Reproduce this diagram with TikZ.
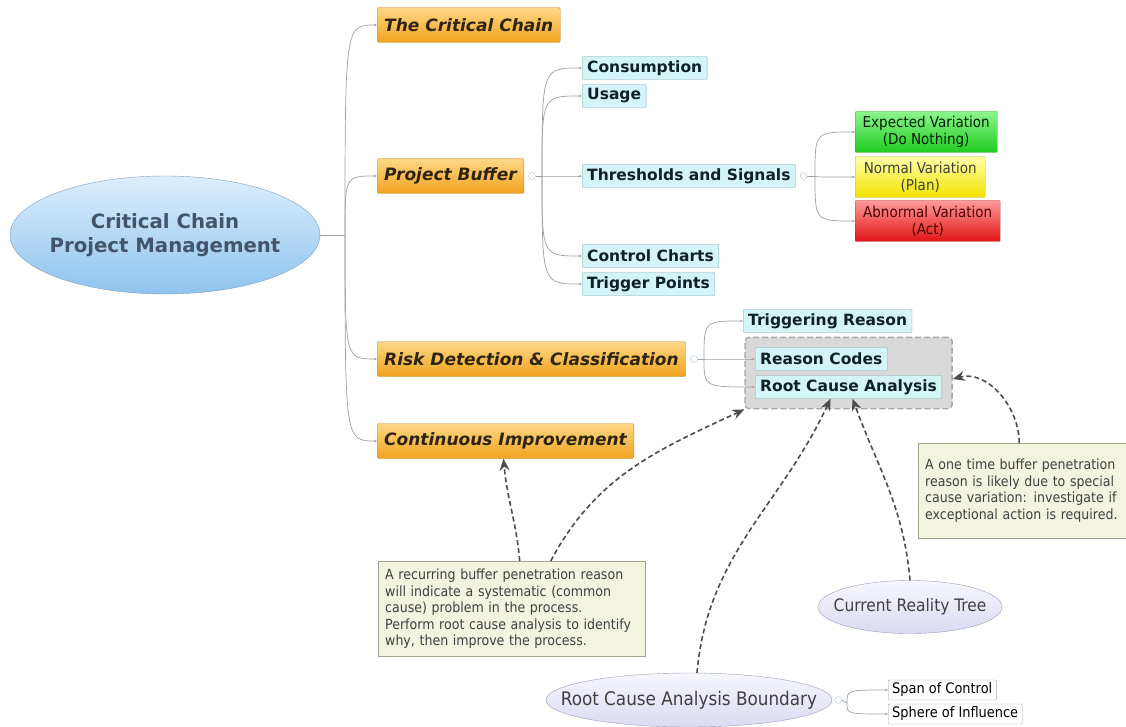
\documentclass[tikz,border=0pt]{standalone}
\usepackage{fontspec}
\setmainfont{DejaVu Sans}
\newfontfamily\condfont{DejaVu Sans Condensed}
\usetikzlibrary{arrows.meta, shapes.geometric, fit, backgrounds}

\definecolor{RootTop}{HTML}{DCEEFC}
\definecolor{RootBot}{HTML}{8EC3EE}
\definecolor{RootEdge}{HTML}{7F9FC2}
\definecolor{RootText}{HTML}{43546B}
\definecolor{TopicTop}{HTML}{FDD886}
\definecolor{TopicBot}{HTML}{F2A21E}
\definecolor{TopicEdge}{HTML}{C58A2E}
\definecolor{TopicText}{HTML}{2E2412}
\definecolor{SubFill}{HTML}{D4F5F7}
\definecolor{SubEdge}{HTML}{7FA7AE}
\definecolor{SubText}{HTML}{10202A}
\definecolor{GoTop}{HTML}{8CF58C}
\definecolor{GoBot}{HTML}{1FCB1F}
\definecolor{GoEdge}{HTML}{3C9B3C}
\definecolor{PlanTop}{HTML}{FFFFA6}
\definecolor{PlanBot}{HTML}{F2E200}
\definecolor{PlanEdge}{HTML}{B9B040}
\definecolor{ActTop}{HTML}{FF9A9A}
\definecolor{ActBot}{HTML}{E01414}
\definecolor{ActEdge}{HTML}{B23232}
\definecolor{NoteFill}{HTML}{F3F4DF}
\definecolor{NoteEdge}{HTML}{A3A489}
\definecolor{BubTop}{HTML}{F7F7FF}
\definecolor{BubBot}{HTML}{DADAF2}
\definecolor{BubEdge}{HTML}{9D9DBA}
\definecolor{KnobEdge}{HTML}{A9C6E0}

\begin{document}
\begin{tikzpicture}[x=1pt, y=-1pt,
    root/.style={ellipse, draw=RootEdge, top color=RootTop, bottom color=RootBot, minimum width=310pt, minimum height=118pt, inner xsep=-20pt, inner ysep=0pt, align=center, text=RootText, font=\fontsize{19.7}{24}\selectfont\bfseries},
    topic/.style={rectangle, rounded corners=2pt, draw=TopicEdge, top color=TopicTop, bottom color=TopicBot, minimum height=35pt, inner xsep=7pt, anchor=west, text=TopicText, font=\fontsize{17}{19}\selectfont\bfseries\itshape},
    sub/.style={rectangle, rounded corners=1pt, draw=SubEdge, fill=SubFill, minimum height=23pt, inner xsep=5pt, inner ysep=0pt, anchor=west, text=SubText, font=\fontsize{15.5}{17}\selectfont\bfseries},
    signal/.style={rectangle, rounded corners=1pt, minimum height=41pt, inner xsep=6pt, inner ysep=2pt, anchor=west, align=center, font=\condfont\fontsize{15}{17}\selectfont},
    small/.style={rectangle, rounded corners=1pt, draw=gray!70, fill=white, minimum height=20pt, inner xsep=4pt, inner ysep=0pt, anchor=west, font=\condfont\fontsize{14.4}{16}\selectfont},
    note/.style={rectangle, draw=NoteEdge, fill=NoteFill, align=left, inner xsep=7pt, minimum height=95pt, anchor=north west, text=black!75, font=\condfont\fontsize{14}{16.5}\selectfont},
    bubble/.style={ellipse, draw=BubEdge, top color=BubTop, bottom color=BubBot, inner xsep=-30pt, text=black!75},
    knob/.style={circle, draw=KnobEdge, fill=white, inner sep=0pt, minimum size=7pt},
    group/.style={rectangle, rounded corners=4pt, draw=gray!70, fill=black!15, line width=1.4pt, dash pattern=on 6pt off 3pt, inner sep=10pt},
    conn/.style={draw=gray!75, line width=0.7pt, -{Stealth[length=3pt,width=2.5pt]}},
    link/.style={draw=black!70, line width=1.6pt, dash pattern=on 5pt off 3pt, -{Stealth[length=12pt,width=10pt,inset=4pt]}}
]
    \useasboundingbox (0,0) rectangle (1126,727);

    % central topic and main branches
    \node[root] (ccpm) at (165,235) {Critical Chain\\Project Management};
    \node[topic] (cc) at (377,25) {The Critical Chain};
    \node[topic] (pb) at (377,176) {Project Buffer};
    \node[topic] (rd) at (377,359) {Risk Detection \& Classification};
    \node[topic] (ci) at (377,441) {Continuous Improvement};

    \coordinate (mainhub) at (345,235);
    \draw[draw=gray!75, line width=0.7pt] (ccpm.east) -- (mainhub);
    \foreach \t in {cc,pb,rd,ci}
        \draw[conn] (mainhub) .. controls (mainhub |- \t.west) .. (\t.west);

    % project buffer
    \node[knob] (pbk) at ([xshift=8pt]pb.east) {};
    \node[sub] (con) at (582,68) {Consumption};
    \node[sub] (use) at (582,96) {Usage};
    \node[sub] (ths) at (582,176) {Thresholds and Signals};
    \node[sub] (cch) at (582,256) {Control Charts};
    \node[sub] (trp) at (582,284) {Trigger Points};

    \coordinate (pbhub) at (542,176);
    \draw[draw=gray!75, line width=0.7pt] (pbk.east) -- (pbhub);
    \foreach \t in {con,use,ths,cch,trp}
        \draw[conn] (pbhub) .. controls (pbhub |- \t.west) .. (\t.west);

    % thresholds
    \node[knob] (thk) at ([xshift=8pt]ths.east) {};
    \node[signal, draw=GoEdge, top color=GoTop, bottom color=GoBot, minimum width=142pt, text=black!70!green!40!black] (exv) at (855,132) {Expected Variation\\(Do Nothing)};
    \node[signal, draw=PlanEdge, top color=PlanTop, bottom color=PlanBot, minimum width=130pt, text=black!75] (nov) at (855,177) {Normal Variation\\(Plan)};
    \node[signal, draw=ActEdge, top color=ActTop, bottom color=ActBot, minimum width=145pt, text=black!70!red] (abv) at (855,221) {Abnormal Variation\\(Act)};

    \coordinate (thhub) at (815,176);
    \draw[draw=gray!75, line width=0.7pt] (thk.east) -- (thhub);
    \foreach \t in {exv,nov,abv}
        \draw[conn] (thhub) .. controls (thhub |- \t.west) .. (\t.west);

    % risk detection
    \node[knob] (rdk) at ([xshift=8pt]rd.east) {};
    \node[sub] (trr) at (743,321) {Triggering Reason};
    \node[sub] (rco) at (755,359) {Reason Codes};
    \node[sub] (rca) at (755,387) {Root Cause Analysis};
    \begin{scope}[on background layer]
        \node[group, fit=(rco)(rca)] (grp) {};
    \end{scope}

    \coordinate (rdhub) at (704,359);
    \draw[draw=gray!75, line width=0.7pt] (rdk.east) -- (rdhub);
    \foreach \t in {trr,rco,rca}
        \draw[conn] (rdhub) .. controls (rdhub |- \t.west) .. (\t.west);

    % notes and analysis tools
    \node[note, text width=253pt] (recur) at (378,561) {A recurring buffer penetration reason\\will indicate a systematic (common\\cause) problem in the process.\\Perform root cause analysis to identify\\why, then improve the process.};
    \node[note, text width=200pt] (once) at (918,443) {A one time buffer penetration\\reason is likely due to special\\cause variation: investigate if\\exceptional action is required.};
    \node[bubble, minimum width=184pt, minimum height=53pt, font=\condfont\fontsize{17.2}{20}\selectfont] (crt) at (910,607) {Current Reality Tree};
    \node[bubble, minimum width=286pt, minimum height=54pt, font=\condfont\fontsize{18.7}{21}\selectfont] (rcab) at (689,700) {Root Cause Analysis Boundary};

    \node[knob] (rbk) at ([xshift=6pt]rcab.east) {};
    \node[small] (spc) at (888,690) {Span of Control};
    \node[small] (sph) at (888,714) {Sphere of Influence};
    \coordinate (rbhub) at (847,703);
    \draw[draw=gray!75, line width=0.7pt] (rbk.east) -- (rbhub);
    \foreach \t in {spc,sph}
        \draw[conn] (rbhub) .. controls (rbhub |- \t.west) .. (\t.west);

    % dashed relations
    \draw[link] ([xshift=8pt]recur.north) to[out=95, in=-85] ([xshift=-2pt]ci.south);
    \draw[link] ([xshift=39pt]recur.north) to[out=62, in=205] (grp.south west);
    \draw[link] ([xshift=8pt]rcab.north) to[out=85, in=245] ([xshift=-18pt]rca.south);
    \draw[link] (crt.north) to[out=95, in=-70] ([xshift=4pt]rca.south);
    \draw[link] ([xshift=-6pt]once.north) to[out=90, in=15] ([yshift=-6pt]grp.east);
\end{tikzpicture}
\end{document}
